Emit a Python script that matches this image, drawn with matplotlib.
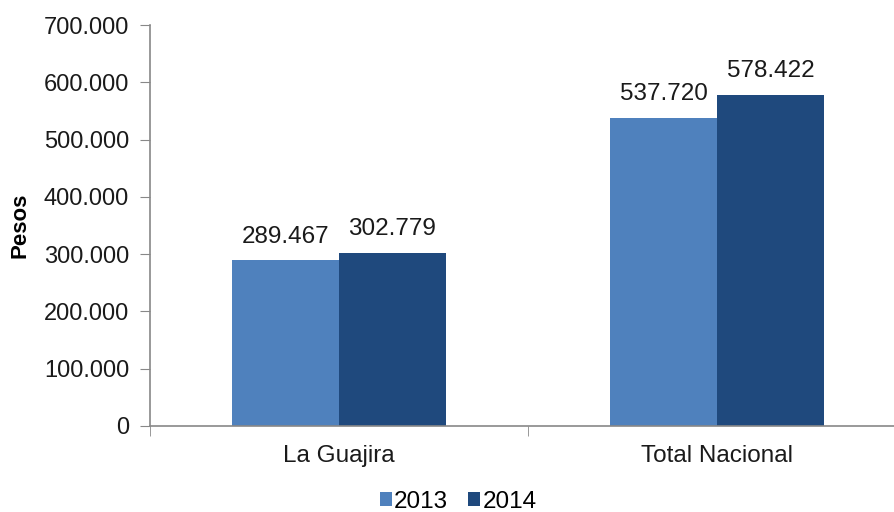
import matplotlib.pyplot as plt
import numpy as np
from matplotlib.ticker import FuncFormatter

plt.rcParams['font.family'] = ['Liberation Sans', 'DejaVu Sans']

categories = ["La Guajira", "Total Nacional"]
years = ["2013", "2014"]
values_2013 = [289467, 537720]
values_2014 = [302779, 578422]
colors = ["#4F81BD", "#1F497D"]

fig = plt.figure(figsize=(8.94, 5.12), dpi=100)
# axis runs past the right edge of the picture, like the original
ax = fig.add_axes([150 / 894, 86 / 512, 756 / 894, 401 / 512])

x = np.arange(len(categories))
w = 0.283
b1 = ax.bar(x - w / 2, values_2013, w, color=colors[0], label=years[0])
b2 = ax.bar(x + w / 2, values_2014, w, color=colors[1], label=years[1])

fmt = lambda v: f"{int(v):,}".replace(",", ".")
for bars in (b1, b2):
    for r in bars:
        ax.annotate(fmt(r.get_height()), (r.get_x() + r.get_width() / 2, r.get_height()),
                    xytext=(0, 9), textcoords="offset points", ha="center", va="bottom",
                    fontsize=17.5, color="#1a1a1a")

ax.set_xlim(-0.5, 1.5)
ax.set_ylim(0, 700000)
ax.set_yticks(np.arange(0, 700001, 100000))
ax.yaxis.set_major_formatter(FuncFormatter(lambda v, p: fmt(v)))
ax.set_xticks(x)
ax.set_xticklabels(categories)
ax.set_xticks([-0.5, 0.5, 1.5], minor=True)
ax.tick_params(axis="x", which="major", length=0, pad=14, labelsize=17.5, labelcolor="#1a1a1a")
ax.tick_params(axis="x", which="minor", length=7, direction="out", color="#888888")
ax.tick_params(axis="y", length=7, direction="out", color="#888888", labelsize=17,
               labelcolor="#1a1a1a", pad=8)

for s in ("top", "right"):
    ax.spines[s].set_visible(False)
for s in ("left", "bottom"):
    ax.spines[s].set_color("#888888")
    ax.spines[s].set_linewidth(1.2)

ax.set_ylabel("Pesos", fontsize=16, fontweight="bold")
ax.yaxis.set_label_coords(-0.158, 0.5)

fig.legend(loc="center", bbox_to_anchor=(458 / 894, 10 / 512), ncol=2, frameon=False,
           fontsize=17.5, handlelength=0.5, handleheight=0.5, handletextpad=0.1,
           columnspacing=0.8, borderpad=0)

fig.savefig("out.png", dpi=100)
